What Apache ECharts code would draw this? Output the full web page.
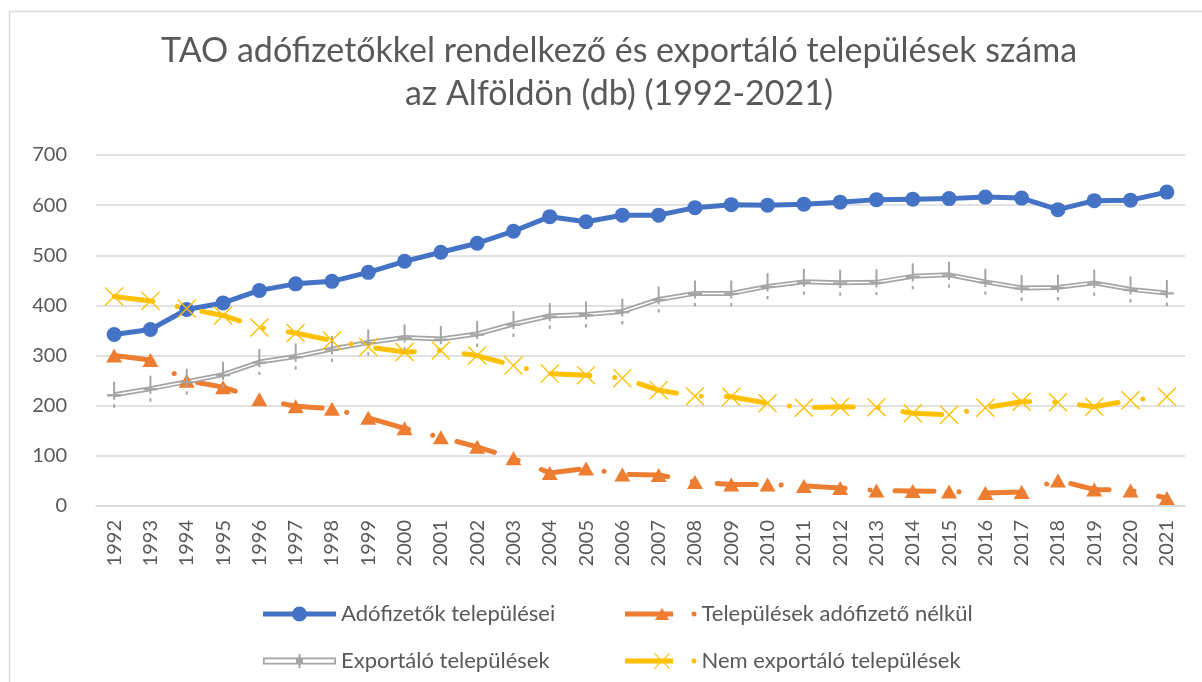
<!DOCTYPE html>
<html>
<head>
<meta charset="utf-8">
<script src="https://cdn.jsdelivr.net/npm/echarts@6/dist/echarts.min.js"></script>
<style>
html,body{margin:0;padding:0;background:#fff;}
#chart{width:1202px;height:682px;}
</style>
</head>
<body>
<div id="chart"></div>
<script>
const years = ['1992','1993','1994','1995','1996','1997','1998','1999','2000','2001','2002','2003','2004','2005','2006','2007','2008','2009','2010','2011','2012','2013','2014','2015','2016','2017','2018','2019','2020','2021'];
const adofizetok = [342,352,392,405,430,443,448,466,488,506,524,548,577,567,580,580,595,601,600,602,606,611,612,613,616,614,591,609,610,626];
const adofizetoNelkul = [300,291,250,237,213,199,194,176,155,137,118,95,66,75,63,62,48,43,43,40,36,31,30,29,26,28,51,33,31,16];
const exportalo = [222,234,248,262,287,298,313,326,336,333,343,363,379,382,388,412,424,424,438,447,445,446,458,461,447,435,436,445,432,425];
const nemExportalo = [418,409,394,380,356,345,330,317,307,310,300,280,264,261,255,231,219,218,205,196,198,197,185,182,196,208,207,198,211,218];
const yTicks = [0,100,200,300,400,500,600,700];

const names = ['Adófizetők települései','Települések adófizető nélkül','Exportáló települések','Nem exportáló települések'];
const FONT = 'Lato, "Open Sans", sans-serif';
const TXT = '#595959';

const plusPath = 'path://M6,0H8V11H14V13H8V16H6V13H0V11H6Z M6,20H8V23H6Z';
const xPath = 'path://M0,1L1,0L20,19L19,20Z M19,0L20,1L1,20L0,19Z';

// legend icons (pixel units, drawn at scale 1)
const blueIcon = 'path://M0,5.5H31V10.5H0Z M42,5.5H73V10.5H42Z M29,8A7.5,7.5 0 1,1 44,8A7.5,7.5 0 1,1 29,8Z';
const grayIcon = 'path://M0,4.5H73V6.2H0Z M0,9.8H73V11.5H0Z M0,4.5H1.7V11.5H0Z M71.3,4.5H73V11.5H71.3Z M33,4.5H40V11.5H33Z M35.5,1H37.5V15H35.5Z';
const orangeIcon = 'path://M0,5.5H48V10.5H0Z M30,14L37,2L44,14Z M66.5,8A2.5,2.5 0 1,1 71.5,8A2.5,2.5 0 1,1 66.5,8Z';
const yellowIcon = 'path://M0,5.5H48V10.5H0Z M29,0.8L29.8,0L45,15.2L44.2,16Z M44.2,0L45,0.8L29.8,16L29,15.2Z M66.5,8A2.5,2.5 0 1,1 71.5,8A2.5,2.5 0 1,1 66.5,8Z';

const chart = echarts.init(document.getElementById('chart'), null, {renderer:'canvas'});

function legendFor(name, left, top, icon, w, h){
  return {
    data:[{name:name, icon:icon}], left:left, top:top, orient:'horizontal',
    itemWidth:w, itemHeight:h, itemGap:0, symbolKeepAspect:false,
    textStyle:{color:TXT, fontSize:22, fontFamily:FONT},
    selectedMode:false
  };
}

chart.setOption({
  animation:false,
  backgroundColor:'#ffffff',
  title:{
    text:'TAO adófizetőkkel rendelkező és exportáló települések száma\naz Alföldön (db) (1992-2021)',
    left:614, top:25, textAlign:'center',
    textStyle:{color:TXT, fontSize:34, fontWeight:'normal', fontFamily:FONT, lineHeight:43}
  },
  graphic:[{
    type:'rect', shape:{x:9.5, y:11.5, width:1200, height:680},
    style:{fill:null, stroke:'#D9D9D9', lineWidth:1.5}, silent:true, z:-1
  }],
  legend:[
    legendFor(names[0], 258, 598, blueIcon, 73, 15),
    legendFor(names[1], 620, 598, orangeIcon, 71.5, 12),
    legendFor(names[2], 258, 645, grayIcon, 73, 14),
    legendFor(names[3], 620, 645, yellowIcon, 71.5, 16)
  ],
  grid:{left:96, right:17, top:155, bottom:176, containLabel:false, outerBoundsMode:'none'},
  xAxis:{
    type:'category', data:years, boundaryGap:true,
    axisLine:{show:true, lineStyle:{color:'#D9D9D9', width:1.5}},
    axisTick:{show:false},
    axisLabel:{rotate:90, color:TXT, fontSize:20, fontFamily:FONT, margin:14, interval:0}
  },
  yAxis:{
    type:'value', min:yTicks[0], max:yTicks[yTicks.length-1], interval:100,
    axisLine:{show:false}, axisTick:{show:false},
    splitLine:{lineStyle:{color:'#D9D9D9', width:1.5}},
    axisLabel:{color:TXT, fontSize:20, fontFamily:FONT, margin:29}
  },
  series:[
    {
      name:names[0], type:'line', data:adofizetok,
      lineStyle:{color:'#4472C4', width:5},
      itemStyle:{color:'#4472C4'},
      symbol:'circle', symbolSize:15, showAllSymbol:true
    },
    {
      name:names[1], type:'line', data:adofizetoNelkul,
      lineStyle:{color:'#ED7D31', width:5, type:[39,25,0.01,25], cap:'round'},
      itemStyle:{color:'#ED7D31'},
      symbol:'triangle', symbolSize:[16,14], showAllSymbol:true
    },
    {
      name:names[2], type:'line', data:exportalo,
      lineStyle:{color:'#A5A5A5', width:5},
      itemStyle:{color:'#A5A5A5'},
      symbol:plusPath, symbolSize:[14,26], showAllSymbol:true
    },
    {
      name:'_exportalo_inner', type:'line', data:exportalo,
      lineStyle:{color:'#ffffff', width:1.5},
      symbol:'none', silent:true, tooltip:{show:false}
    },
    {
      name:names[3], type:'line', data:nemExportalo,
      lineStyle:{color:'#FFC000', width:5, type:[39,25,0.01,25], cap:'round'},
      itemStyle:{color:'#FFC000'},
      symbol:xPath, symbolSize:19, showAllSymbol:true
    }
  ]
});
</script>
</body>
</html>
